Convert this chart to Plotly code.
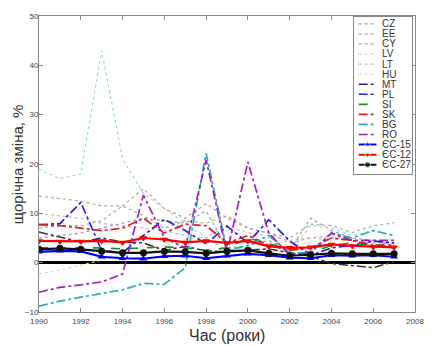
import plotly.graph_objects as go

years = list(range(1990, 2008))

CZ = [5.0, 5.5, 6.0, 7.0, 8.0, 9.0, 8.5, 8.0, 10.5, 3.0, 3.5, 4.5, 2.5, 9.0, 6.5, 5.0, 4.5, 3.5]
EE = [7.0, 7.5, 7.5, 8.5, 11.5, 9.5, 7.0, 8.5, 8.0, 9.5, 7.0, 6.0, 5.0, 7.8, 7.5, 6.1, 7.5, 8.1]
CY = [13.5, 13.0, 12.5, 11.5, 11.5, 15.0, 11.0, 9.0, 12.0, 9.0, 7.0, 6.0, 4.0, 5.0, 5.0, 4.5, 4.0, 4.0]
LV = [19.0, 17.0, 18.0, 43.0, 21.0, 14.0, 11.0, 8.0, 5.0, 2.5, 3.0, 2.5, 2.0, 7.5, 7.0, 5.5, 6.5, 5.5]
LT = [10.0, 9.5, 9.0, 8.0, 7.5, 7.0, 6.5, 5.5, 5.0, 7.5, 6.0, 5.5, 4.5, 5.0, 5.5, 4.5, 3.5, 3.0]
HU = [-2.3, -1.5, -0.5, 0.5, 1.5, 2.5, 3.5, 4.5, 5.5, 6.5, 5.5, 5.0, 3.5, 4.0, 5.5, 3.5, 4.0, 5.0]
MT = [6.2, 5.2, 4.2, 5.0, 4.2, 4.0, 2.5, 3.3, 2.4, 2.2, 2.5, 2.8, 2.0, 1.3, -0.2, -0.6, -1.0, 0.2]
PL = [7.7, 7.9, 12.2, 2.5, 2.0, 5.5, 8.8, 6.5, 3.8, 7.4, 4.0, 8.7, 4.4, 1.5, 3.0, 3.5, 4.4, 4.0]
SI = [3.0, 3.0, 3.0, 3.0, 2.8, 3.0, 3.2, 3.0, 2.5, 3.0, 5.0, 3.8, 3.0, 2.0, 3.5, 4.0, 3.5, 3.8]
SK = [7.7, 7.5, 7.0, 6.5, 7.0, 9.0, 6.0, 7.8, 7.5, 4.0, 5.5, 3.5, 2.5, 3.0, 5.0, 4.5, 3.5, 3.5]
BG = [-8.8, -7.8, -7.0, -6.3, -5.5, -4.2, -4.4, -1.0, 22.2, 2.5, 3.5, 5.5, 2.0, 2.0, 6.0, 5.0, 6.5, 5.5]
RO = [-6.0, -5.0, -4.5, -3.9, -2.3, 13.7, 5.0, 3.0, 20.8, 2.0, 20.4, 6.0, 1.5, 2.0, 6.0, 4.5, 4.5, 4.5]
EC15 = [2.2, 2.4, 2.3, 1.2, 0.9, 0.8, 1.3, 1.4, 0.9, 1.4, 1.8, 1.5, 1.0, 0.9, 1.5, 1.4, 1.5, 1.2]
EC12 = [4.4, 4.3, 4.3, 4.4, 4.1, 5.0, 4.7, 4.1, 4.4, 4.0, 4.4, 3.3, 3.0, 3.1, 3.7, 3.4, 3.2, 3.1]
EC27 = [2.7, 2.9, 2.7, 2.3, 2.0, 2.0, 2.3, 2.2, 1.9, 2.3, 2.5, 1.9, 1.4, 1.6, 1.9, 1.8, 1.8, 1.8]

names = ["CZ", "EE", "CY", "LV", "LT", "HU", "MT", "PL", "SI", "SK", "BG", "RO",
         "ЄС-15", "ЄС-12", "ЄС-27"]
values = [CZ, EE, CY, LV, LT, HU, MT, PL, SI, SK, BG, RO, EC15, EC12, EC27]

styles = [
    dict(color="#9a9aaa", dash="dot", width=1.2, marker=None),
    dict(color="#a0b094", dash="dot", width=1.2, marker=None),
    dict(color="#c898aa", dash="dot", width=1.2, marker=None),
    dict(color="#98dada", dash="dot", width=1.2, marker=None),
    dict(color="#d0a8d8", dash="dot", width=1.2, marker=None),
    dict(color="#e0e0a8", dash="dot", width=1.2, marker=None),
    dict(color="#333333", dash="dashdot", width=1.5, marker=None),
    dict(color="#2020e0", dash="dashdot", width=1.7, marker=None),
    dict(color="#209020", dash="dash", width=1.7, marker=None),
    dict(color="#e02020", dash="dashdot", width=1.7, marker=None),
    dict(color="#20b0b0", dash="dashdot", width=1.7, marker=None),
    dict(color="#a020c0", dash="dashdot", width=1.7, marker=None),
    dict(color="#0000ff", dash="solid", width=2.2, marker="triangle-up"),
    dict(color="#ff0000", dash="solid", width=2.2, marker="triangle-down"),
    dict(color="#111111", dash="solid", width=2.2, marker="circle"),
]

fig = go.Figure()

for name, vals, st in zip(names, values, styles):
    tr = dict(x=years, y=vals, name=name, showlegend=False,
              line=dict(color=st["color"], dash=st["dash"], width=st["width"]),
              xaxis="x", yaxis="y")
    if st["marker"]:
        tr["mode"] = "lines+markers"
        tr["marker"] = dict(symbol=st["marker"], size=7, color=st["color"])
    else:
        tr["mode"] = "lines"
    fig.add_trace(go.Scatter(**tr))

# Custom compact legend drawn on an auxiliary axis pair
leg_step = 10.2
for i, (name, st) in enumerate(zip(names, styles)):
    yy = 7 + leg_step * i
    tr = dict(x=[5, 14, 23], y=[yy, yy, yy], showlegend=False, hoverinfo="skip",
              line=dict(color=st["color"], dash=st["dash"], width=min(st["width"], 2)),
              xaxis="x2", yaxis="y2")
    if st["marker"]:
        tr["mode"] = "lines+markers"
        tr["marker"] = dict(symbol=st["marker"], size=[0, 6, 0], color=st["color"])
    else:
        tr["mode"] = "lines"
    fig.add_trace(go.Scatter(**tr))
    fig.add_annotation(x=27, y=yy, xref="x2", yref="y2", text=name, showarrow=False,
                       xanchor="left", yanchor="middle",
                       font=dict(size=10, color="#333333", family="Liberation Sans"))

axis_common = dict(showgrid=False, showline=True, linecolor="#888888", linewidth=1,
                   mirror="ticks", ticks="inside", ticklen=4, tickcolor="#888888",
                   tickfont=dict(size=8, color="#444444", family="Liberation Sans"))

fig.update_layout(
    width=436, height=346,
    margin=dict(l=39, r=17, t=12, b=34),
    paper_bgcolor="white", plot_bgcolor="white",
    xaxis=dict(range=[1990, 2008], dtick=2, tick0=1990, ticklabelstandoff=1, **axis_common),
    yaxis=dict(range=[-10, 50], dtick=10, zeroline=True, zerolinecolor="black",
               zerolinewidth=2.5, ticklabelstandoff=-2, **axis_common),
    xaxis2=dict(domain=[0.837, 0.992], range=[0, 59], anchor="y2",
                showgrid=False, zeroline=False, showticklabels=False, ticks="",
                showline=True, linecolor="#888888", mirror=True, fixedrange=True),
    yaxis2=dict(domain=[0.467, 0.997], range=[159, 0], anchor="x2",
                showgrid=False, zeroline=False, showticklabels=False, ticks="",
                showline=True, linecolor="#888888", mirror=True, fixedrange=True),
    showlegend=False,
)

fig.add_annotation(x=-0.058, y=0.5, xref="paper", yref="paper", text="щорічна зміна, %",
                   textangle=-90, showarrow=False, xanchor="center", yanchor="middle",
                   font=dict(size=15, color="#333333", family="Liberation Sans"))
fig.add_annotation(x=0.5, y=-0.08, xref="paper", yref="paper", text="Час (роки)",
                   showarrow=False, xanchor="center", yanchor="middle",
                   font=dict(size=16, color="#333333", family="Liberation Sans"))

fig.write_html("out.html", config={"displayModeBar": False},
               post_script="document.body.style.margin='0';")
